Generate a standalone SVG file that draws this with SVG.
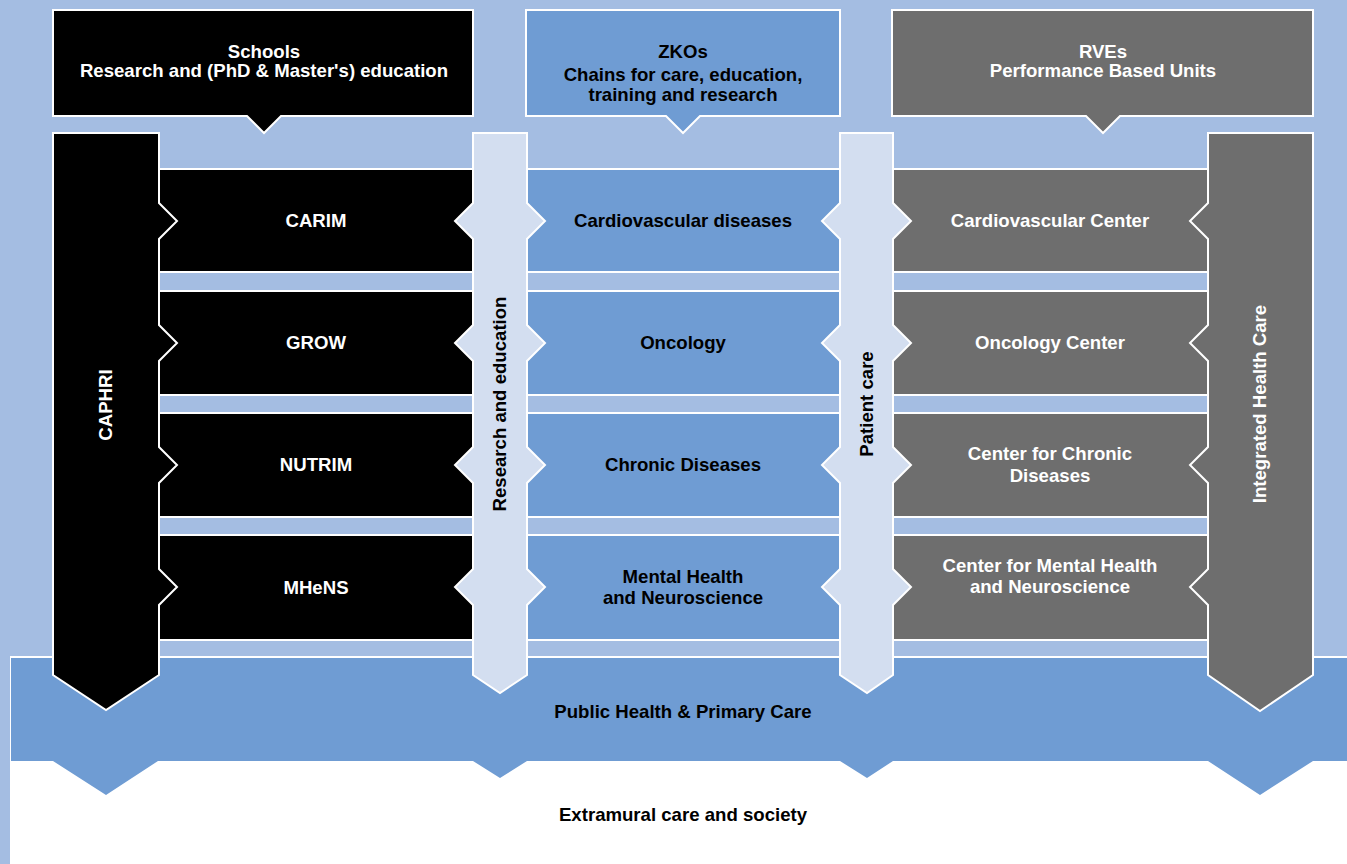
<svg xmlns="http://www.w3.org/2000/svg" width="1347" height="864" viewBox="0 0 1347 864">
  <style>
    text { font-family: "Liberation Sans", Arial, sans-serif; font-weight: bold; font-size: 18.6px; text-anchor: middle; }
    .w { fill: #ffffff; }
    .k { fill: #000000; }
    .edge { stroke: #ffffff; stroke-width: 2; stroke-linejoin: miter; }
    .black { fill: #000000; }
    .blue { fill: #6F9CD3; }
    .grey { fill: #6E6E6E; }
    .pale { fill: #D3DEF0; }
  </style>

  <!-- backdrop -->
  <rect x="0" y="0" width="1347" height="864" fill="#A4BDE2"/>
  <rect x="10" y="656" width="1337" height="208" fill="#ffffff"/>

  <!-- public health band with downward tips -->
  <g id="public-health">
    <path class="blue" d="M11,658 H1347 V761 H1313 L1260,795 L1208,761 H893 L867,778 L840,761 H527 L500,778 L473,761 H158 L106,795 L53,761 H11 Z"/>
    <text class="k" x="683" y="718">Public Health &amp; Primary Care</text>
  </g>
  <g id="extramural">
    <text class="k" x="683" y="821">Extramural care and society</text>
  </g>

  <!-- header boxes -->
  <g id="schools">
    <path class="black edge" d="M53,10 H473 V116 H281 L264,133 L247,116 H53 Z"/>
    <text class="w" x="264" y="58">Schools</text>
    <text class="w" x="264" y="77">Research and (PhD &amp; Master's) education</text>
  </g>
  <g id="zkos">
    <path class="blue edge" d="M526,10 H840 V116 H700 L683,133 L666,116 H526 Z"/>
    <text class="k" x="683" y="58">ZKOs</text>
    <text class="k" x="683" y="81">Chains for care, education,</text>
    <text class="k" x="683" y="101">training and research</text>
  </g>
  <g id="rves">
    <path class="grey edge" d="M892,10 H1313 V116 H1120 L1103,133 L1086,116 H892 Z"/>
    <text class="w" x="1103" y="58">RVEs</text>
    <text class="w" x="1103" y="77">Performance Based Units</text>
  </g>

  <!-- school rows -->
  <g id="carim"><rect class="black edge" x="159" y="169" width="314" height="103"/><text class="w" x="316" y="227">CARIM</text></g>
  <g id="grow"><rect class="black edge" x="159" y="291" width="314" height="104"/><text class="w" x="316" y="349">GROW</text></g>
  <g id="nutrim"><rect class="black edge" x="159" y="413" width="314" height="104"/><text class="w" x="316" y="471">NUTRIM</text></g>
  <g id="mhens"><rect class="black edge" x="159" y="535" width="314" height="105"/><text class="w" x="316" y="594">MHeNS</text></g>

  <!-- care chain rows -->
  <g id="zko-cardio"><rect class="blue edge" x="527" y="169" width="313" height="103"/><text class="k" x="683" y="227">Cardiovascular diseases</text></g>
  <g id="zko-onco"><rect class="blue edge" x="527" y="291" width="313" height="104"/><text class="k" x="683" y="349">Oncology</text></g>
  <g id="zko-chronic"><rect class="blue edge" x="527" y="413" width="313" height="104"/><text class="k" x="683" y="471">Chronic Diseases</text></g>
  <g id="zko-mental"><rect class="blue edge" x="527" y="535" width="313" height="105"/><text class="k" x="683" y="583">Mental Health</text><text class="k" x="683" y="604">and Neuroscience</text></g>

  <!-- performance unit rows -->
  <g id="rve-cardio"><rect class="grey edge" x="893" y="169" width="315" height="103"/><text class="w" x="1050" y="227">Cardiovascular Center</text></g>
  <g id="rve-onco"><rect class="grey edge" x="893" y="291" width="315" height="104"/><text class="w" x="1050" y="349">Oncology Center</text></g>
  <g id="rve-chronic"><rect class="grey edge" x="893" y="413" width="315" height="104"/><text class="w" x="1050" y="460">Center for Chronic</text><text class="w" x="1050" y="482">Diseases</text></g>
  <g id="rve-mental"><rect class="grey edge" x="893" y="535" width="315" height="105"/><text class="w" x="1050" y="572">Center for Mental Health</text><text class="w" x="1050" y="593">and Neuroscience</text></g>

  <!-- vertical pillars with arrowheads into each row -->
  <g id="connectors">
    <g id="caphri">
      <path class="black edge" d="M53,133 H159 V203 L177,221 L159,239 V325 L177,343 L159,361 V447 L177,465 L159,483 V569 L177,587 L159,605 V675 L106,710 L53,675 Z"/>
      <text class="w" transform="translate(112,405) rotate(-90)">CAPHRI</text>
    </g>
    <g id="research-education">
      <path class="pale edge" d="M473,133 H527 V203 L545,221 L527,239 V325 L545,343 L527,361 V447 L545,465 L527,483 V569 L545,587 L527,605 V675 L500,693 L473,675 V605 L455,587 L473,569 V483 L455,465 L473,447 V361 L455,343 L473,325 V239 L455,221 L473,203 Z"/>
      <text class="k" transform="translate(506,404) rotate(-90)">Research and education</text>
    </g>
    <g id="patient-care">
      <path class="pale edge" d="M840,133 H893 V203 L911,221 L893,239 V325 L911,343 L893,361 V447 L911,465 L893,483 V569 L911,587 L893,605 V675 L867,693 L840,675 V605 L822,587 L840,569 V483 L822,465 L840,447 V361 L822,343 L840,325 V239 L822,221 L840,203 Z"/>
      <text class="k" transform="translate(873,404) rotate(-90)">Patient care</text>
    </g>
    <g id="integrated-care">
      <path class="grey edge" d="M1208,133 H1313 V675 L1260,711 L1208,675 V605 L1190,587 L1208,569 V483 L1190,465 L1208,447 V361 L1190,343 L1208,325 V239 L1190,221 L1208,203 Z"/>
      <text class="w" transform="translate(1266,404) rotate(-90)">Integrated Health Care</text>
    </g>
  </g>
</svg>
